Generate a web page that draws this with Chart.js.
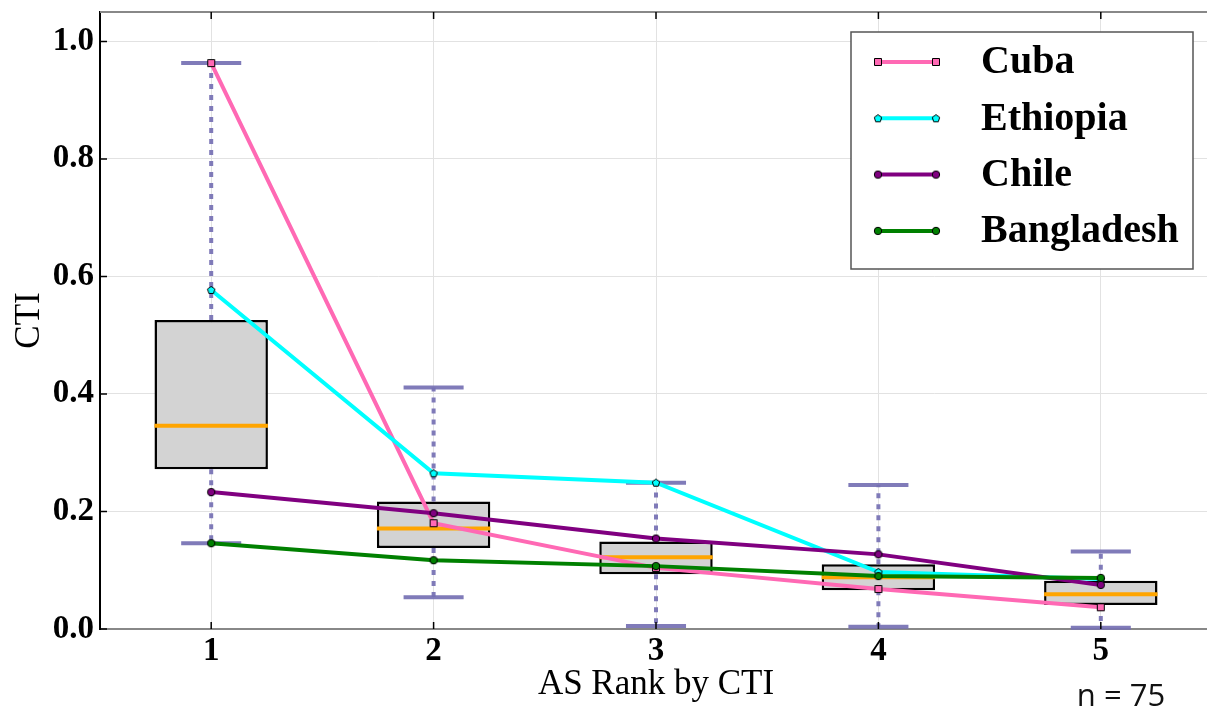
<!DOCTYPE html>
<html>
<head>
<meta charset="utf-8">
<script src="https://cdn.jsdelivr.net/npm/chart.js@4.4.1/dist/chart.umd.min.js"></script>
<style>
  html, body { margin: 0; padding: 0; background: #fff; overflow: hidden; }
  #chart { display: block; }
</style>
</head>
<body>
<canvas id="chart" width="1220" height="711"></canvas>
<script>
// --- data ---
const ranks = [1, 2, 3, 4, 5];
const yTickValues = [0, 0.2, 0.4, 0.6, 0.8, 1.0];

const boxMin    = [0.146, 0.054, 0.005, 0.004, 0.002];
const boxQ1     = [0.272, 0.138, 0.093, 0.066, 0.041];
const boxMedian = [0.346, 0.171, 0.122, 0.088, 0.059];
const boxQ3     = [0.526, 0.217, 0.149, 0.110, 0.082];
const boxMax    = [0.963, 0.411, 0.249, 0.245, 0.132];

const cuba       = [0.963, 0.180, 0.104, 0.068, 0.037];
const ethiopia   = [0.577, 0.265, 0.249, 0.097, 0.085];
const chile      = [0.233, 0.197, 0.154, 0.127, 0.075];
const bangladesh = [0.146, 0.117, 0.107, 0.090, 0.087];

const SERIF = '"Liberation Serif", "Times New Roman", serif';
const WHISKER = 'rgba(117,112,179,0.92)';

// small marker images (square / pentagon / circle with black edge)
function marker(shape, fill) {
  const c = document.createElement('canvas');
  c.width = c.height = 10;
  const g = c.getContext('2d');
  g.fillStyle = fill;
  g.strokeStyle = '#000';
  g.lineWidth = 1;
  g.beginPath();
  if (shape === 'square') {
    g.rect(1.5, 1.5, 7, 7);
  } else if (shape === 'pentagon') {
    for (let k = 0; k < 5; k++) {
      const a = -Math.PI / 2 + k * 2 * Math.PI / 5;
      const px = 5 + 3.9 * Math.cos(a), py = 5.3 + 3.9 * Math.sin(a);
      k ? g.lineTo(px, py) : g.moveTo(px, py);
    }
    g.closePath();
  } else {
    g.arc(5, 5, 3.7, 0, Math.PI * 2);
  }
  g.fill();
  g.stroke();
  return c;
}

function series(label, values, color, shape, order) {
  return {
    type: 'line',
    label,
    data: ranks.map((r, i) => ({ x: r, y: values[i] })),
    borderColor: color,
    backgroundColor: color,
    borderWidth: 4,
    tension: 0,
    pointRadius: 4,
    pointStyle: marker(shape, color),
    order
  };
}

// whiskers, caps and medians, drawn right after the boxes
const boxPlugin = {
  id: 'boxExtras',
  afterDatasetDraw(chart, args) {
    if (args.index !== 0) return;
    const { ctx, scales: { x, y } } = chart;
    const bars = args.meta.data;
    ctx.save();
    ranks.forEach((r, i) => {
      const cx = x.getPixelForValue(r);
      ctx.strokeStyle = WHISKER;
      ctx.lineWidth = 4;
      ctx.setLineDash([5, 6]);
      ctx.beginPath();
      ctx.moveTo(cx, y.getPixelForValue(boxQ3[i]));
      ctx.lineTo(cx, y.getPixelForValue(boxMax[i]));
      ctx.moveTo(cx, y.getPixelForValue(boxQ1[i]));
      ctx.lineTo(cx, y.getPixelForValue(boxMin[i]));
      ctx.stroke();
      ctx.setLineDash([]);
      ctx.beginPath();
      [boxMax[i], boxMin[i]].forEach(v => {
        const py = y.getPixelForValue(v);
        ctx.moveTo(x.getPixelForValue(r - 0.135), py);
        ctx.lineTo(x.getPixelForValue(r + 0.135), py);
      });
      ctx.stroke();
      const bar = bars[i];
      const my = y.getPixelForValue(boxMedian[i]);
      ctx.strokeStyle = '#ffa500';
      ctx.lineWidth = 4;
      ctx.beginPath();
      ctx.moveTo(bar.x - bar.width / 2, my);
      ctx.lineTo(bar.x + bar.width / 2, my);
      ctx.stroke();
    });
    ctx.restore();
  }
};

// top spine, inward tick marks, legend box and the n label
const framePlugin = {
  id: 'frame',
  afterDraw(chart) {
    const { ctx, chartArea: a, scales: { x, y } } = chart;
    ctx.save();
    ctx.strokeStyle = '#888';
    ctx.lineWidth = 2;
    ctx.beginPath();
    ctx.moveTo(a.left, a.top);
    ctx.lineTo(a.right, a.top);
    ctx.stroke();

    ctx.strokeStyle = '#000';
    ctx.lineWidth = 1.5;
    ctx.beginPath();
    yTickValues.forEach(v => {
      const py = y.getPixelForValue(v);
      ctx.moveTo(a.left, py); ctx.lineTo(a.left + 7, py);
    });
    ranks.forEach(r => {
      const px = x.getPixelForValue(r);
      ctx.moveTo(px, a.bottom); ctx.lineTo(px, a.bottom - 7);
      ctx.moveTo(px, a.top); ctx.lineTo(px, a.top + 7);
    });
    ctx.stroke();

    // legend
    const lx = a.right - 361, ly = a.top + 20;
    ctx.fillStyle = '#fff';
    ctx.fillRect(lx, ly, 342, 237);
    ctx.strokeStyle = '#555';
    ctx.lineWidth = 1.5;
    ctx.strokeRect(lx, ly, 342, 237);
    const lines = chart.data.datasets.filter(d => d.type === 'line');
    lines.forEach((d, i) => {
      const cy = ly + 30 + i * 56.3;
      ctx.strokeStyle = d.borderColor;
      ctx.lineWidth = 4;
      ctx.beginPath();
      ctx.moveTo(lx + 27, cy);
      ctx.lineTo(lx + 85, cy);
      ctx.stroke();
      const img = d.pointStyle;
      ctx.drawImage(img, lx + 27 - img.width / 2, cy - img.height / 2);
      ctx.drawImage(img, lx + 85 - img.width / 2, cy - img.height / 2);
      ctx.fillStyle = '#000';
      ctx.font = 'bold 40px ' + SERIF;
      ctx.textBaseline = 'middle';
      ctx.textAlign = 'left';
      ctx.fillText(d.label, lx + 130, cy + 1);
    });

    ctx.fillStyle = '#111';
    ctx.font = '31px "Open Sans", sans-serif';
    ctx.textAlign = 'center';
    ctx.textBaseline = 'middle';
    ctx.fillText('n = 75', 1121, 697);
    ctx.restore();
  }
};

new Chart(document.getElementById('chart'), {
  type: 'line',
  data: {
    datasets: [
      {
        type: 'bar',
        label: 'box',
        data: ranks.map((r, i) => ({ x: r, y: [boxQ1[i], boxQ3[i]] })),
        backgroundColor: '#d3d3d3',
        borderColor: '#000',
        borderWidth: 2.5,
        borderSkipped: false,
        barPercentage: 0.51,
        categoryPercentage: 1,
        order: 10
      },
      series('Cuba', cuba, '#ff69b4', 'square', 4),
      series('Ethiopia', ethiopia, '#00ffff', 'pentagon', 3),
      series('Chile', chile, '#800080', 'circle', 2),
      series('Bangladesh', bangladesh, '#008000', 'circle', 1)
    ]
  },
  options: {
    responsive: false,
    animation: false,
    devicePixelRatio: 1,
    events: [],
    layout: { padding: { top: 12, right: 5, left: 0, bottom: 0 } },
    plugins: { legend: { display: false }, tooltip: { enabled: false } },
    scales: {
      x: {
        type: 'linear',
        min: 0.5,
        max: 5.5,
        offset: false,
        afterBuildTicks: s => { s.ticks = ranks.map(v => ({ value: v })); },
        afterFit: s => { s.height = 82; s.paddingLeft = 0; s.paddingRight = 0; },
        ticks: {
          color: '#000',
          padding: 3,
          font: { family: SERIF, size: 33, weight: 'bold' },
          callback: v => String(v)
        },
        grid: { color: '#e2e2e2', drawTicks: false, offset: false },
        border: { color: '#888', width: 2 },
        title: {
          display: true,
          text: 'AS Rank by CTI',
          color: '#000',
          font: { family: SERIF, size: 35 },
          padding: { top: 0, bottom: 5 }
        }
      },
      y: {
        min: 0,
        max: 1.05,
        afterBuildTicks: s => { s.ticks = yTickValues.map(v => ({ value: v })); },
        afterFit: s => { s.width = 100; s.paddingTop = 0; s.paddingBottom = 0; },
        ticks: {
          color: '#000',
          padding: 6,
          font: { family: SERIF, size: 33, weight: 'bold' },
          callback: v => v.toFixed(1)
        },
        grid: { color: '#e2e2e2', drawTicks: false },
        border: { color: '#000', width: 2 },
        title: {
          display: true,
          text: 'CTI',
          color: '#000',
          font: { family: SERIF, size: 35 },
          padding: { top: 9, bottom: 0 }
        }
      }
    }
  },
  plugins: [boxPlugin, framePlugin]
});
</script>
</body>
</html>
